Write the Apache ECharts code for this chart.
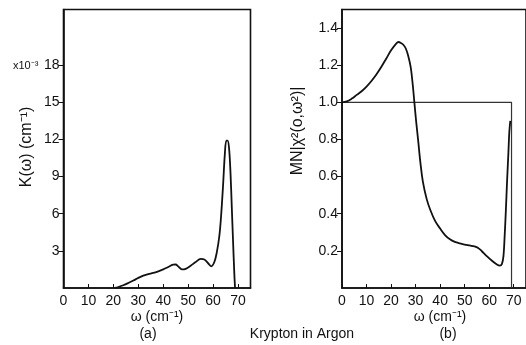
<!DOCTYPE html>
<html>
<head>
<meta charset="utf-8">
<script src="https://cdn.jsdelivr.net/npm/echarts@6/dist/echarts.min.js"></script>
<style>
  html, body { margin: 0; padding: 0; background: #fff; }
  #chart { width: 526px; height: 345px; }
</style>
</head>
<body>
<div id="chart"></div>
<script>
  // panel (a): absorption K(w), in units of 1e-3 cm^-1
  const aOmega = [20.5, 22, 24, 26, 28, 30, 32, 34, 36, 38, 40, 42, 44, 45, 46, 47.5, 49, 51, 53, 55, 56.5, 58, 59.2, 60.5, 61.5, 62.5, 63.2, 64, 64.7, 65.3, 65.8, 66.4, 67, 67.5, 68, 68.5, 68.8]
  const aK = [0, 0.08, 0.22, 0.4, 0.6, 0.82, 1.0, 1.12, 1.22, 1.35, 1.5, 1.7, 1.88, 1.9, 1.75, 1.5, 1.55, 1.8, 2.1, 2.35, 2.3, 2.0, 1.75, 2.1, 2.9, 4.2, 5.8, 8.3, 10.8, 11.9, 11.9, 11.3, 9.2, 6.5, 3.8, 1.2, 0]

  // panel (b): MN|chi^2(0,w^2)|
  const bOmega = [0, 2, 4, 6, 8, 10, 12, 14, 16, 18, 20, 22, 23, 24, 25, 26, 27, 28, 28.8, 29.5, 30.2, 31, 32, 33, 34.5, 36, 38, 40, 42, 44, 46, 48, 50, 52, 54, 55.5, 57, 59, 61, 63, 64.3, 65.2, 65.8, 66.3, 66.8, 67.3, 67.8, 68.2, 68.6]
  const bChi = [1.0, 1.005, 1.02, 1.04, 1.06, 1.085, 1.115, 1.15, 1.19, 1.235, 1.28, 1.315, 1.325, 1.32, 1.31, 1.29, 1.25, 1.19, 1.1, 1.0, 0.9, 0.8, 0.67, 0.57, 0.48, 0.42, 0.36, 0.32, 0.285, 0.262, 0.248, 0.24, 0.234, 0.229, 0.224, 0.216, 0.198, 0.172, 0.148, 0.128, 0.12, 0.13, 0.17, 0.28, 0.42, 0.58, 0.72, 0.84, 0.9]

  // step reference line in (b)
  const stepOmega = [0, 69.1, 69.1]
  const stepChi = [1, 1, 0]

  const xTicks = [0, 10, 20, 30, 40, 50, 60, 70]
  const aYTicks = [3, 6, 9, 12, 15, 18]
  const bYTicks = [0.2, 0.4, 0.6, 0.8, 1.0, 1.2, 1.4]

  const zip = (xs, ys) => xs.map((x, i) => [x, ys[i]])

  const font = 'Liberation Sans'
  const ink = '#111'

  const xAxisBase = (gridIndex) => ({
    type: 'value', gridIndex: gridIndex, min: 0, max: 75,
    axisLine: { onZero: false, lineStyle: { color: ink, width: 1.6 } },
    axisTick: { inside: true, length: 4, customValues: xTicks, lineStyle: { color: ink } },
    axisLabel: { customValues: xTicks, color: ink, fontFamily: font, fontSize: 14, margin: 6 },
    splitLine: { show: false }
  })

  const chart = echarts.init(document.getElementById('chart'))
  chart.setOption({
    animation: false,
    backgroundColor: '#fff',
    grid: [
      { left: 63.5, top: 9.5, width: 187, height: 278.5, show: true, borderColor: ink, borderWidth: 1.6 },
      { left: 342, top: 9.5, width: 186, height: 278.5, show: true, borderColor: ink, borderWidth: 1.6 }
    ],
    xAxis: [xAxisBase(0), xAxisBase(1)],
    yAxis: [
      {
        type: 'value', gridIndex: 0, min: 0, max: 22.5,
        axisLine: { lineStyle: { color: ink, width: 1.6 } },
        axisTick: { length: 5, customValues: aYTicks, lineStyle: { color: ink } },
        axisLabel: { customValues: aYTicks, color: ink, fontFamily: font, fontSize: 14, margin: 4 },
        splitLine: { show: false }
      },
      {
        type: 'value', gridIndex: 1, min: 0, max: 1.5,
        axisLine: { lineStyle: { color: ink, width: 1.6 } },
        axisTick: { length: 5, customValues: bYTicks, lineStyle: { color: ink } },
        axisLabel: {
          customValues: bYTicks, color: ink, fontFamily: font, fontSize: 14, margin: 4,
          formatter: (v) => v.toFixed(1)
        },
        splitLine: { show: false }
      }
    ],
    series: [
      {
        type: 'line', xAxisIndex: 0, yAxisIndex: 0, data: zip(aOmega, aK),
        showSymbol: false, smooth: 0.35,
        lineStyle: { color: ink, width: 1.8 }
      },
      {
        type: 'line', xAxisIndex: 1, yAxisIndex: 1, data: zip(stepOmega, stepChi),
        showSymbol: false, lineStyle: { color: '#333', width: 1.2 }
      },
      {
        type: 'line', xAxisIndex: 1, yAxisIndex: 1, data: zip(bOmega, bChi),
        showSymbol: false, smooth: 0.35,
        lineStyle: { color: ink, width: 1.8 }
      }
    ],
    graphic: [
      { type: 'text', left: 13, top: 60, style: { text: 'x10⁻³', font: '11px ' + font, fill: ink } },
      { type: 'text', x: 27, y: 147, rotation: Math.PI / 2, style: { text: 'K(ω) (cm⁻¹)', font: '16px ' + font, fill: ink, align: 'center', verticalAlign: 'middle' } },
      { type: 'text', x: 298, y: 131, rotation: Math.PI / 2, style: { text: 'MN|χ²(o,ω²)|', font: '16px ' + font, fill: ink, align: 'center', verticalAlign: 'middle' } },
      { type: 'text', x: 157, y: 317, style: { text: 'ω (cm⁻¹)', font: '14px ' + font, fill: ink, align: 'center', verticalAlign: 'middle' } },
      { type: 'text', x: 440, y: 317, style: { text: 'ω (cm⁻¹)', font: '14px ' + font, fill: ink, align: 'center', verticalAlign: 'middle' } },
      { type: 'text', x: 148, y: 334, style: { text: '(a)', font: '14px ' + font, fill: ink, align: 'center', verticalAlign: 'middle' } },
      { type: 'text', x: 448, y: 334, style: { text: '(b)', font: '14px ' + font, fill: ink, align: 'center', verticalAlign: 'middle' } },
      { type: 'text', x: 302, y: 334, style: { text: 'Krypton in Argon', font: '14px ' + font, fill: ink, align: 'center', verticalAlign: 'middle' } }
    ]
  })
</script>
</body>
</html>
